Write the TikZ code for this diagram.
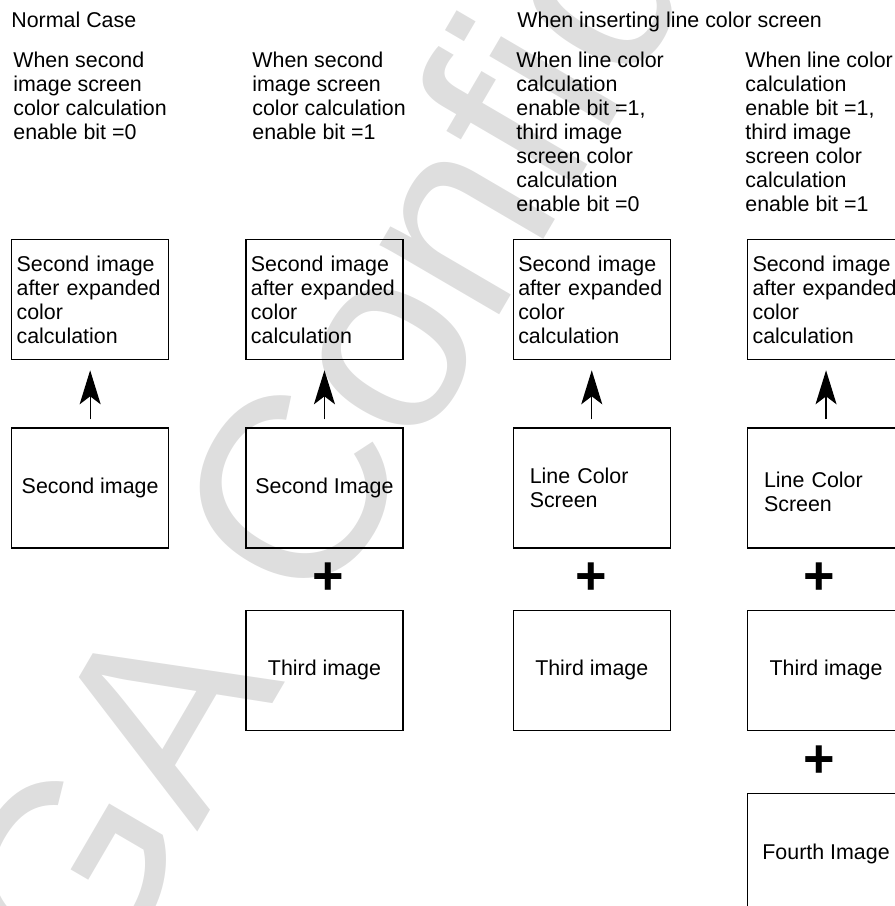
\documentclass[tikz,border=0pt]{standalone}
\usepackage{fontspec}
\setmainfont{Liberation Sans}
\usetikzlibrary{arrows.meta,calc,positioning}
\definecolor{watermarkgray}{rgb}{0.87,0.87,0.87}
\newcommand{\txtfont}{\fontsize{10.7}{12}\selectfont}
\tikzset{
  heading/.style={
    anchor=base west,
    inner sep=0pt,
    font=\txtfont
  },
  condition/.style={
    anchor=north west,
    inner sep=0pt,
    align=left,
    font=\txtfont
  },
  result/.style={
    draw,
    line width=.65pt,
    text width=73.5pt,
    minimum height=60pt,
    inner xsep=2.5pt,
    align=left,
    font=\txtfont
  },
  screen/.style={
    draw,
    line width=.65pt,
    minimum width=78.5pt,
    minimum height=60pt,
    align=center,
    font=\txtfont
  },
  plussign/.style={
    inner sep=0pt,
    font=\fontsize{27}{27}\selectfont\bfseries
  },
  watermark/.style={
    anchor=base west,
    inner sep=0pt,
    text=watermarkgray,
    font=\fontsize{131}{131}\selectfont
  },
  arrow/.style={
    -{Stealth[length=17pt,width=10.5pt,inset=4pt]},
    line width=.65pt,
    shorten <=4pt,
    shorten >=5pt
  }
}

\begin{document}
\begin{tikzpicture}[x=.5pt,y=-.5pt]
\useasboundingbox (0,0) rectangle (895,906);
\begin{scope}
\clip (0,0) rectangle (895,906);
\node[watermark,rotate=59.7] (wm) at (94,1009) {GA Confide};
\end{scope}
\node[heading] (normal) at (11,27) {Normal Case};
\node[heading] (inserting) at (517,27) {When inserting line color screen};
\node[condition] (c1) at (13,51.5) {When second\\image screen\\color calculation\\enable bit =0};
\node[condition] (c2) at (252,51.5) {When second\\image screen\\color calculation\\enable bit =1};
\node[condition] (c3) at (516,51.5) {When line color\\calculation\\enable bit =1,\\third image\\screen color\\calculation\\enable bit =0};
\node[condition] (c4) at (745,51.5) {When line color\\calculation\\enable bit =1,\\third image\\screen color\\calculation\\enable bit =1};
\node[result,anchor=north west] (res1) at (11,239) {Second image\\after expanded\\color\\calculation};
\node[result,right=38pt of res1] (res2) {Second image\\after expanded\\color\\calculation};
\node[result,right=54.5pt of res2] (res3) {Second image\\after expanded\\color\\calculation};
\node[result,right=38pt of res3] (res4) {Second image\\after expanded\\color\\calculation};
\node[screen,below=33.5pt of res1] (in1) {Second image};
\node[screen,below=33.5pt of res2] (in2) {Second Image};
\node[screen,below=33.5pt of res3,text width=62pt,align=left] (in3) {Line Color\\Screen};
\node[screen,below=33.5pt of res4,text width=62pt,align=left] (in4) {\rule{0pt}{12pt}Line Color\\Screen};
\node[screen,below=30.5pt of in2] (th2) {Third image};
\node[screen,below=30.5pt of in3] (th3) {Third image};
\node[screen,below=30.5pt of in4] (th4) {Third image};
\node[screen,below=31pt of th4] (fo4) {Fourth Image};
\node[plussign,xshift=2pt] (p2) at ($(in2.south)!.5!(th2.north)$) {+};
\node[plussign] (p3) at ($(in3.south)!.5!(th3.north)$) {+};
\node[plussign,xshift=-3.5pt] (p4) at ($(in4.south)!.5!(th4.north)$) {+};
\node[plussign,xshift=-3.5pt] (p5) at ($(th4.south)!.5!(fo4.north)$) {+};
\draw[arrow] (in1) -- (res1);
\draw[arrow] (in2) -- (res2);
\draw[arrow] (in3) -- (res3);
\draw[arrow] (in4) -- (res4);
\end{tikzpicture}
\end{document}
